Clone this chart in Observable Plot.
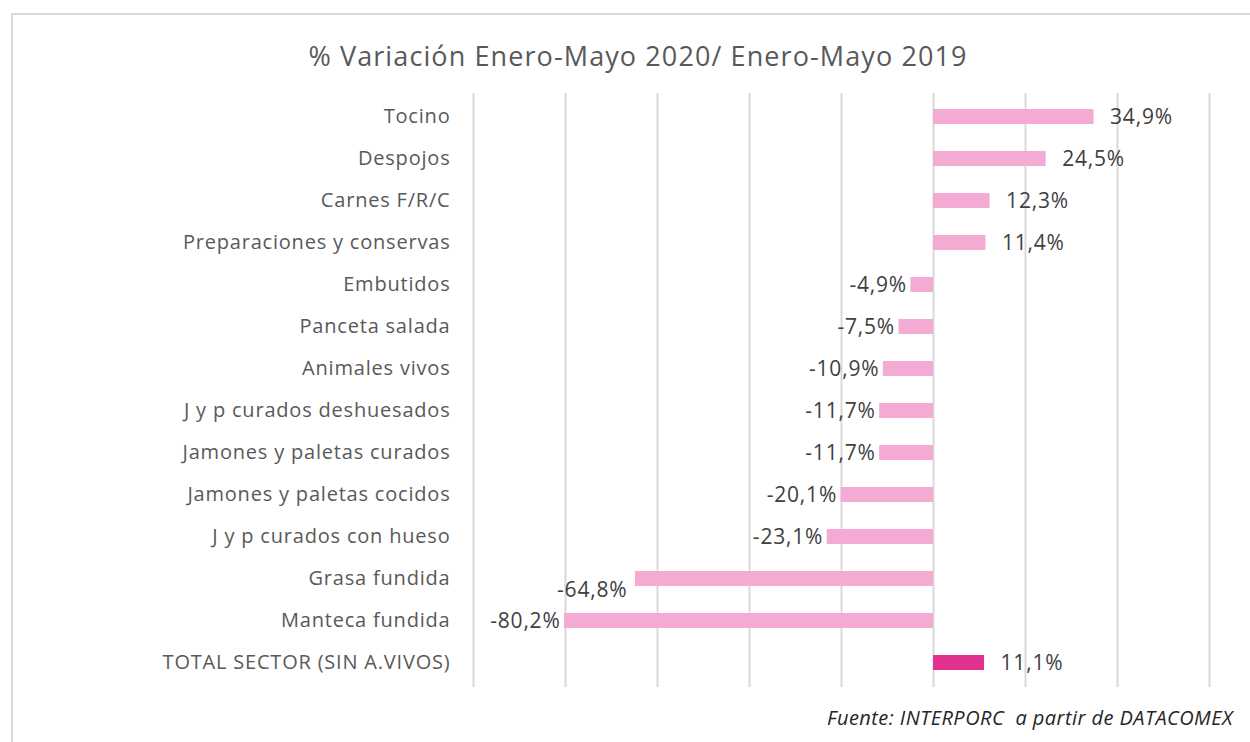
<!DOCTYPE html>
<html>
<head>
<meta charset="utf-8">
<script src="https://cdn.jsdelivr.net/npm/d3@7"></script>
<script src="https://cdn.jsdelivr.net/npm/@observablehq/plot@0.6"></script>
<style>
  html, body { margin: 0; padding: 0; background: #fff; width: 1250px; height: 742px; overflow: hidden; position: relative; }
  #frame { position: absolute; left: 11px; top: 13px; width: 1300px; height: 800px; border: 2px solid #d9d9d9; box-sizing: border-box; }
  #title { position: absolute; left: 0; width: 1276px; top: 37px; text-align: center; font-family: "Open Sans", sans-serif; font-size: 27px; letter-spacing: 1.1px; color: #595959; }
  #chart { position: absolute; left: 0; top: 85px; }
  #caption { position: absolute; right: 17px; top: 704px; font-family: "Open Sans", sans-serif; font-style: italic; font-size: 20px; letter-spacing: 0.45px; color: #262626; }
</style>
</head>
<body>
<div id="frame"></div>
<div id="title">% Variación Enero-Mayo 2020/ Enero-Mayo 2019</div>
<div id="chart"></div>
<div id="caption">Fuente: INTERPORC&nbsp; a partir de DATACOMEX</div>
<script>
const categories = [
  "Tocino",
  "Despojos",
  "Carnes F/R/C",
  "Preparaciones y conservas",
  "Embutidos",
  "Panceta salada",
  "Animales vivos",
  "J y p curados deshuesados",
  "Jamones y paletas curados",
  "Jamones y paletas cocidos",
  "J y p curados con hueso",
  "Grasa fundida",
  "Manteca fundida",
  "TOTAL SECTOR (SIN A.VIVOS)"
];
const values = [34.9, 24.5, 12.3, 11.4, -4.9, -7.5, -10.9, -11.7, -11.7, -20.1, -23.1, -64.8, -80.2, 11.1];
const gridTicks = [-100, -80, -60, -40, -20, 0, 20, 40, 60];
const totalCategory = "TOTAL SECTOR (SIN A.VIVOS)";
const shiftedLabelCategory = "Grasa fundida";

const data = categories.map((c, i) => ({ cat: c, value: values[i], total: c === totalCategory }));
const fmt = v => v.toFixed(1).replace(".", ",") + "%";

const pos = data.filter(d => d.value >= 0);
const neg = data.filter(d => d.value < 0 && d.cat !== shiftedLabelCategory);
const shifted = data.filter(d => d.cat === shiftedLabelCategory);

const chart = Plot.plot({
  width: 1250,
  height: 610,
  marginLeft: 473,
  marginRight: 41,
  marginTop: 8,
  marginBottom: 8,
  style: { fontFamily: "'Open Sans', sans-serif", fontSize: "20px", letterSpacing: "0.8px", color: "#595959", background: "transparent" },
  x: { domain: [-100, 60], axis: null },
  y: { domain: categories, paddingInner: 0.64, paddingOuter: 0.32, label: null, tickSize: 0, tickPadding: 23 },
  marks: [
    Plot.ruleX(gridTicks, { stroke: "#d9d9d9", strokeWidth: 2 }),
    Plot.barX(data, { x: "value", y: "cat", fill: d => d.total ? "#e2318f" : "#f3abd4" }),
    Plot.text(pos, { x: "value", y: "cat", text: d => fmt(d.value), textAnchor: "start", dx: 16, fill: "#404040", fontSize: 21 }),
    Plot.text(neg, { x: "value", y: "cat", text: d => fmt(d.value), textAnchor: "end", dx: -4, fill: "#404040", fontSize: 21 }),
    Plot.text(shifted, { x: "value", y: "cat", text: d => fmt(d.value), textAnchor: "end", dx: -8, dy: 11, fill: "#404040", fontSize: 21 })
  ]
});
chart.querySelectorAll("[aria-label='y-axis tick label'] text").forEach(t => t.setAttribute("fill", "#595959"));
document.getElementById("chart").appendChild(chart);
</script>
</body>
</html>
